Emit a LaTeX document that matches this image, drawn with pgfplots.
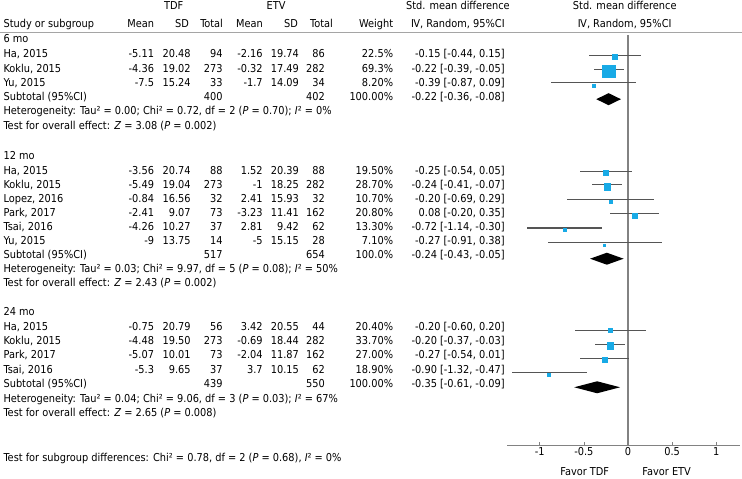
\documentclass[border=0pt]{standalone}
\usepackage{fontspec}
\setmainfont{DejaVu Sans Condensed}
\usepackage{pgfplots}
\pgfplotsset{compat=1.18}
\usepackage{pgfplotstable}
\definecolor{sq}{RGB}{24,170,230}
\definecolor{ci}{RGB}{85,85,85}
\definecolor{ax}{RGB}{130,130,130}
\definecolor{hl}{RGB}{165,165,165}
\newcommand\fnt{\fontsize{10.9bp}{13bp}\selectfont}
\newcommand\B[1]{475.03-#1}
\newcommand\row[9]{%
 \node[L] at (3,\B{#1}) {#2};
 \node[Rr] at (154,\B{#1}) {#3};
 \node[Rr] at (190.7,\B{#1}) {#4};
 \node[Rr] at (222.7,\B{#1}) {#5};
 \node[Rr] at (262.7,\B{#1}) {#6};
 \node[Rr] at (299,\B{#1}) {#7};
 \node[Rr] at (325,\B{#1}) {#8};
 \node[Rr] at (393.3,\B{#1}) {#9};}
\newcommand\smd[2]{\node[Rr] at (505,\B{#1}) {#2};}

% study rows: y = -(pixel row of CI line), sy = -(pixel row of square), sz = square side (px)
\pgfplotstableread{
y      est    lo     hi     sy      sz
-55.7  -0.15  -0.44   0.15  -56.7   5.3
-70.0  -0.22  -0.39  -0.05  -71.0   12.7
-82.7  -0.39  -0.87   0.09  -85.7   2.7
-172.0 -0.25  -0.54   0.05  -172.7  5.0
-185.0 -0.24  -0.41  -0.07  -186.7  6.7
-200.0 -0.20  -0.69   0.29  -201.7  3.0
-214.0  0.08  -0.20   0.35  -215.7  5.3
-228.3 -0.72  -1.14  -0.30  -230.0  3.0
-242.7 -0.27  -0.91   0.38  -245.0  2.3
-330.5 -0.20  -0.60   0.20  -331.0  4.3
-345.0 -0.20  -0.37  -0.03  -346.0  6.7
-359.0 -0.27  -0.54   0.01  -360.0  5.3
-373.3 -0.90  -1.32  -0.47  -375.0  3.3
}\studies

\begin{document}
\begin{tikzpicture}[x=1bp,y=1bp,font=\fnt,
  L/.style={anchor=base west,inner sep=0pt},
  Rr/.style={anchor=base east,inner sep=0pt},
  C/.style={anchor=base,inner sep=0pt}]
\path (0,0) rectangle (742,479);

% headers
\node[C] at (173.5,\B{5.5}) {TDF};
\node[C] at (276,\B{5.5}) {ETV};
\node[C] at (458,\B{5.5}) {Std. mean difference};
\node[C] at (625,\B{5.5}) {Std. mean difference};
\node[L] at (3,\B{23.3}) {Study or subgroup};
\node[Rr] at (154,\B{23.3}) {Mean};
\node[Rr] at (189,\B{23.3}) {SD};
\node[Rr] at (223,\B{23.3}) {Total};
\node[Rr] at (263,\B{23.3}) {Mean};
\node[Rr] at (298,\B{23.3}) {SD};
\node[Rr] at (333,\B{23.3}) {Total};
\node[Rr] at (393.3,\B{23.3}) {Weight};
\node[C] at (458,\B{23.3}) {Ⅳ, Random, 95\%CI};
\node[C] at (625,\B{23.3}) {Ⅳ, Random, 95\%CI};
\draw[hl,line width=0.8bp] (0,479-32) -- (742,479-32);

% 6 mo
\node[L] at (3,\B{39}) {6 mo};
\row{54}{Ha, 2015}{-5.11}{20.48}{94}{-2.16}{19.74}{86}{22.5\%}
\row{68.5}{Koklu, 2015}{-4.36}{19.02}{273}{-0.32}{17.49}{282}{69.3\%}
\row{82.5}{Yu, 2015}{-7.5}{15.24}{33}{-1.7}{14.09}{34}{8.20\%}
\row{96.5}{Subtotal (95\%CI)}{}{}{400}{}{}{402}{100.00\%}
\smd{54}{-0.15 [-0.44, 0.15]}
\smd{68.5}{-0.22 [-0.39, -0.05]}
\smd{82.5}{-0.39 [-0.87, 0.09]}
\smd{96.5}{-0.22 [-0.36, -0.08]}
\node[L] at (3,\B{111}) {Heterogeneity: Tau² = 0.00; Chi² = 0.72, df = 2 (\textit{P} = 0.70); \textit{I}² = 0\%};
\node[L] at (3,\B{125.3}) {Test for overall effect: \textit{Z} = 3.08 (\textit{P} = 0.002)};

% 12 mo
\node[L] at (3,\B{156}) {12 mo};
\row{171}{Ha, 2015}{-3.56}{20.74}{88}{1.52}{20.39}{88}{19.50\%}
\row{185}{Koklu, 2015}{-5.49}{19.04}{273}{-1}{18.25}{282}{28.70\%}
\row{199}{Lopez, 2016}{-0.84}{16.56}{32}{2.41}{15.93}{32}{10.70\%}
\row{213}{Park, 2017}{-2.41}{9.07}{73}{-3.23}{11.41}{162}{20.80\%}
\row{227}{Tsai, 2016}{-4.26}{10.27}{37}{2.81}{9.42}{62}{13.30\%}
\row{241}{Yu, 2015}{-9}{13.75}{14}{-5}{15.15}{28}{7.10\%}
\row{255}{Subtotal (95\%CI)}{}{}{517}{}{}{654}{100.0\%}
\smd{171}{-0.25 [-0.54, 0.05]}
\smd{185}{-0.24 [-0.41, -0.07]}
\smd{199}{-0.20 [-0.69, 0.29]}
\smd{213}{0.08 [-0.20, 0.35]}
\smd{227}{-0.72 [-1.14, -0.30]}
\smd{241}{-0.27 [-0.91, 0.38]}
\smd{255}{-0.24 [-0.43, -0.05]}
\node[L] at (3,\B{269}) {Heterogeneity: Tau² = 0.03; Chi² = 9.97, df = 5 (\textit{P} = 0.08); \textit{I}² = 50\%};
\node[L] at (3,\B{283}) {Test for overall effect: \textit{Z} = 2.43 (\textit{P} = 0.002)};

% 24 mo
\node[L] at (3,\B{312}) {24 mo};
\row{326.5}{Ha, 2015}{-0.75}{20.79}{56}{3.42}{20.55}{44}{20.40\%}
\row{341}{Koklu, 2015}{-4.48}{19.50}{273}{-0.69}{18.44}{282}{33.70\%}
\row{355}{Park, 2017}{-5.07}{10.01}{73}{-2.04}{11.87}{162}{27.00\%}
\row{369.5}{Tsai, 2016}{-5.3}{9.65}{37}{3.7}{10.15}{62}{18.90\%}
\row{384}{Subtotal (95\%CI)}{}{}{439}{}{}{550}{100.00\%}
\smd{326.5}{-0.20 [-0.60, 0.20]}
\smd{341}{-0.20 [-0.37, -0.03]}
\smd{355}{-0.27 [-0.54, 0.01]}
\smd{369.5}{-0.90 [-1.32, -0.47]}
\smd{384}{-0.35 [-0.61, -0.09]}
\node[L] at (3,\B{398.5}) {Heterogeneity: Tau² = 0.04; Chi² = 9.06, df = 3 (\textit{P} = 0.03); \textit{I}² = 67\%};
\node[L] at (3,\B{413}) {Test for overall effect: \textit{Z} = 2.65 (\textit{P} = 0.008)};

\node[L] at (3,\B{458}) {Test for subgroup differences: Chi² = 0.78, df = 2 (\textit{P} = 0.68), \textit{I}² = 0\%};

\node[C] at (585,\B{472}) {Favor TDF};
\node[C] at (667,\B{472}) {Favor ETV};

\begin{axis}[
  at={(507.3bp,33bp)}, anchor=south west,
  x=88.3bp, y=1bp,
  xmin=-1.37, xmax=1.27, ymin=-446, ymax=-35,
  axis x line*=bottom, axis y line=none,
  x axis line style={ax, line width=0.9bp, -},
  xtick={-1,-0.5,0,0.5,1},
  xticklabels={-1,-0.5,0,0.5,1},
  tick align=inside, major tick length=4bp,
  tick style={ax, line width=0.7bp},
  xticklabel style={font=\fnt, inner sep=1.5bp},
  /pgf/number format/assume math mode=true,
  clip=false,
]
\addplot[ax, line width=1.2bp] coordinates {(0,-35) (0,-446)};
\addplot[draw=none, mark=none, forget plot,
  error bars/.cd, x dir=both, x explicit, error mark=none,
  error bar style={draw=ci, solid, line width=1.1bp}]
  table[x=est, y=y,
    x error minus expr=\thisrow{est}-\thisrow{lo},
    x error plus expr=\thisrow{hi}-\thisrow{est}] {\studies};
\addplot[scatter, only marks, mark=square*, point meta=\thisrow{sz},
  mark options={draw=sq, fill=sq, line width=0.3bp},
  scatter/use mapped color={draw=sq, fill=sq},
  visualization depends on={\thisrow{sz}/2-0.15 \as \hs},
  scatter/@pre marker code/.append style={/tikz/mark size=\hs}]
  table[x=est, y=sy] {\studies};
% subtotal diamonds (lo, est, hi at row y, half height 6)
\addplot[fill=black, draw=none] coordinates {(-0.36,-99.3) (-0.22,-93.3) (-0.08,-99.3) (-0.22,-105.3)} --cycle;
\addplot[fill=black, draw=none] coordinates {(-0.43,-259) (-0.24,-253) (-0.05,-259) (-0.24,-265)} --cycle;
\addplot[fill=black, draw=none] coordinates {(-0.61,-387.7) (-0.35,-381.7) (-0.09,-387.7) (-0.35,-393.7)} --cycle;
\end{axis}
\end{tikzpicture}
\end{document}
